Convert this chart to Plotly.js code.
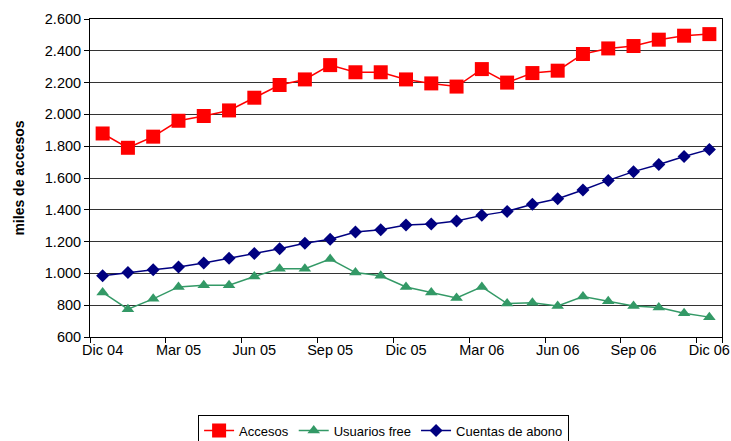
<!DOCTYPE html>
<html><head><meta charset="utf-8">
<script src="https://cdn.plot.ly/plotly-3.0.1.min.js"></script>
<style>html,body{margin:0;padding:0;background:#fff}#chart{width:731px;height:441px}</style>
</head><body><div id="chart"></div>
<script>
const months = ["Dic 04","Ene 05","Feb 05","Mar 05","Abr 05","May 05","Jun 05","Jul 05","Ago 05","Sep 05","Oct 05","Nov 05","Dic 05","Ene 06","Feb 06","Mar 06","Abr 06","May 06","Jun 06","Jul 06","Ago 06","Sep 06","Oct 06","Nov 06","Dic 06"];
const tickLabels = ["Dic 04","Mar 05","Jun 05","Sep 05","Dic 05","Mar 06","Jun 06","Sep 06","Dic 06"];
const accesos = [1880,1790,1860,1960,1990,2025,2105,2185,2220,2310,2265,2265,2220,2195,2175,2285,2200,2260,2275,2380,2415,2430,2470,2495,2505];
const usuariosFree = [880,775,840,915,925,925,980,1030,1030,1090,1005,985,915,880,845,915,810,815,795,855,825,795,785,750,725];
const cuentasAbono = [985,1005,1023,1040,1065,1095,1125,1155,1190,1215,1260,1275,1305,1310,1330,1365,1390,1435,1470,1525,1585,1640,1685,1735,1780];

const traces = [
  {x: months, y: accesos, name: "Accesos", type: "scatter", mode: "lines+markers",
   line: {color: "#FF0000", width: 1.5}, marker: {symbol: "square", size: 14, color: "#FF0000"}},
  {x: months, y: usuariosFree, name: "Usuarios free", type: "scatter", mode: "lines+markers",
   line: {color: "#339966", width: 1.5}, marker: {symbol: "triangle-up", size: 11, color: "#339966"}},
  {x: months, y: cuentasAbono, name: "Cuentas de abono", type: "scatter", mode: "lines+markers",
   line: {color: "#000080", width: 1.5}, marker: {symbol: "diamond", size: 10, color: "#000080"}}
];

const layout = {
  width: 731, height: 441,
  margin: {l: 90, r: 9, t: 19, b: 104},
  paper_bgcolor: "#fff", plot_bgcolor: "#fff",
  separators: ",.",
  font: {family: "Liberation Sans, Arial, sans-serif", size: 14, color: "#000"},
  showlegend: true,
  legend: {orientation: "h", xref: "container", yref: "container",
    x: 0.271, xanchor: "left", y: 0.06, yanchor: "top",
    bordercolor: "#000", borderwidth: 1, bgcolor: "#fff",
    font: {size: 13}, itemwidth: 30, tracegroupgap: 0},
  xaxis: {type: "category", range: [-0.5, 24.5], showgrid: false, automargin: false,
    tickvals: tickLabels, ticktext: tickLabels, tickson: "boundaries", tickangle: 0,
    ticks: "outside", ticklen: 5, tickcolor: "#000",
    showline: true, linecolor: "#000", linewidth: 1, mirror: true,
    tickfont: {size: 14.5}},
  yaxis: {range: [600, 2600], dtick: 200, tick0: 600, tickformat: ",d", automargin: false,
    showgrid: true, gridcolor: "#333", gridwidth: 1,
    ticks: "outside", ticklen: 5, tickcolor: "#000",
    showline: true, linecolor: "#000", linewidth: 1, mirror: true,
    zeroline: false, tickfont: {size: 14.5},
    title: {text: "<b>miles de accesos</b>", font: {size: 14}, standoff: 16}}
};
Plotly.newPlot("chart", traces, layout, {staticPlot: true, displayModeBar: false});
</script></body></html>
